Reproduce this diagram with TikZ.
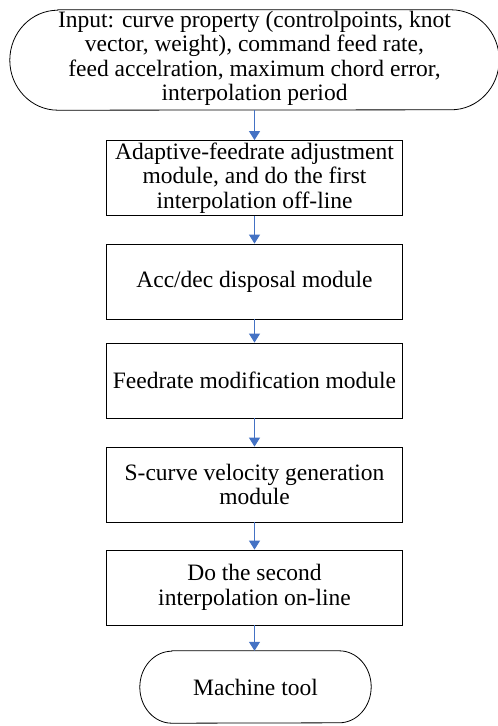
\documentclass[tikz,border=0pt]{standalone}
\usepackage{fontspec}
\setmainfont{Liberation Serif}
\usetikzlibrary{arrows.meta,calc}
\definecolor{arrowblue}{HTML}{4472C4}
\begin{document}
\begin{tikzpicture}[x=1pt,y=-1pt,
  txt/.style={align=center, inner sep=0pt, font=\fontsize{23.5}{24.5}\selectfont},
  box/.style={txt, draw=black, line width=0.8pt, minimum width=296pt, minimum height=75pt},
  flow/.style={draw=arrowblue, line width=1pt, -{Triangle[length=9pt,width=11pt]}},
  outline/.style={draw=black, line width=0.8pt}]
\useasboundingbox (0,0) rectangle (498,726);
% top terminal
\node[txt, minimum width=489pt, minimum height=100pt] (in) at (254.5,60) {};
\node[txt] (intext) at (254.5,58.5) {Input: curve property (controlpoints, knot\\vector, weight), command feed rate,\\feed accelration, maximum chord error,\\interpolation period};
\draw[outline] ($(in.north west)+(48,0)$) -- ($(in.north east)+(-48,0)$)
  arc[start angle=-90, end angle=90, x radius=48, y radius=50]
  -- ($(in.south west)+(48,0)$)
  arc[start angle=90, end angle=270, x radius=48, y radius=50] -- cycle;
% boxes
\node[box] (b1) at (254.5,178) {Adaptive-feedrate adjustment\\module, and do the first\\interpolation off-line};
\node[box] (b2) at (254.5,281.5) {Acc/dec disposal module};
\node[box] (b3) at (254.5,380.5) {Feedrate modification module};
\node[box] (b4) at (254.5,484.5) {S-curve velocity generation\\module};
\node[box] (b5) at (254.5,587.5) {Do the second\\interpolation on-line};
% bottom terminal
\node[txt, minimum width=231pt, minimum height=72pt] (mt) at (255.5,687) {Machine tool};
\draw[outline] ($(mt.north west)+(32,0)$) -- ($(mt.north east)+(-32,0)$)
  arc[start angle=-90, end angle=90, x radius=32, y radius=36]
  -- ($(mt.south west)+(32,0)$)
  arc[start angle=90, end angle=270, x radius=32, y radius=36] -- cycle;
% connectors
\draw[flow] (in.south) -- (b1.north);
\draw[flow] (b1) -- (b2);
\draw[flow] (b2) -- (b3);
\draw[flow] (b3) -- (b4);
\draw[flow] (b4) -- (b5);
\draw[flow] (b5.south) -- (b5.south |- mt.north);
\end{tikzpicture}
\end{document}
